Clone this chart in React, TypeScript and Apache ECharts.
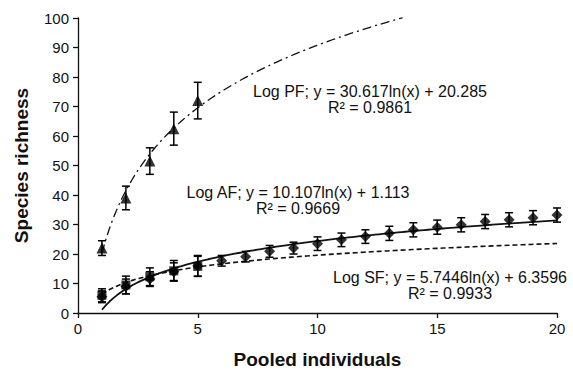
import React, { useEffect, useRef } from "react";
import * as echarts from "echarts";

const pfX = [1, 2, 3, 4, 5];
const pfY = [22, 39, 51.5, 62.5, 72];
const pfErr = [2.5, 4, 4.5, 5.6, 6.2];

const afX = [1, 2, 3, 4, 5, 6, 7, 8, 9, 10, 11, 12, 13, 14, 15, 16, 17, 18, 19, 20];
const afY = [5.5, 9, 11.5, 14, 16, 17.7, 19.1, 20.9, 22, 23.5, 24.8, 25.9, 27, 28.2, 29.1, 29.9, 31, 31.6, 32.3, 33.2];
const afErr = [2, 2.5, 2.5, 3, 3.5, 1.8, 1.8, 2, 2, 2.3, 2.3, 2.3, 2.4, 2.4, 2.4, 2.4, 2.4, 2.4, 2.4, 2.4];

const sfX = [1, 2, 3, 4, 5];
const sfY = [6, 9.5, 12.3, 14.3, 15.8];
const sfErr = [2.2, 3, 3, 3.5, 3.4];

// trendline coefficients shown on the chart: y = a ln(x) + b, drawn over [from, to]
const pfFit = [30.617, 20.285, 1, 13.55];
const afFit = [10.107, 1.113, 1, 20];
const sfFit = [5.7446, 6.3596, 1, 20];

const fitLabels = [
  { text: "Log PF; y = 30.617ln(x) + 20.285\nR² = 0.9861", x: 370, y: 99 },
  { text: "Log AF; y = 10.107ln(x) + 1.113\nR² = 0.9669", x: 298, y: 200 },
  { text: "Log SF; y = 5.7446ln(x) + 6.3596\nR² = 0.9933", x: 450, y: 285 },
];

function curve(fit: number[]) {
  const [a, b, from, to] = fit;
  const pts: number[][] = [];
  const n = 120;
  for (let i = 0; i <= n; i++) {
    const x = from + ((to - from) * i) / n;
    pts.push([x, a * Math.log(x) + b]);
  }
  return pts;
}

function errData(xs: number[], ys: number[], es: number[]) {
  return xs.map((x, i) => [x, ys[i] - es[i], ys[i] + es[i]]);
}

const errRender = (params: any, api: any) => {
  const x = api.value(0);
  const lo = api.coord([x, api.value(1)]);
  const hi = api.coord([x, api.value(2)]);
  const w = 4;
  const style = { stroke: "#000", lineWidth: 1.5 };
  return {
    type: "group",
    children: [
      { type: "line", shape: { x1: lo[0], y1: lo[1], x2: hi[0], y2: hi[1] }, style },
      { type: "line", shape: { x1: lo[0] - w, y1: lo[1], x2: lo[0] + w, y2: lo[1] }, style },
      { type: "line", shape: { x1: hi[0] - w, y1: hi[1], x2: hi[0] + w, y2: hi[1] }, style },
    ],
  };
};

const FONT = "'Liberation Sans', Arial, sans-serif";

export default function App() {
  const ref = useRef<HTMLDivElement>(null);
  useEffect(() => {
    const chart = echarts.init(ref.current!, null, { renderer: "svg" });
    chart.setOption({
      animation: false,
      backgroundColor: "#fff",
      grid: { left: 78, right: 16, top: 18, bottom: 61 },
      xAxis: {
        type: "value",
        min: 0,
        max: 20,
        interval: 5,
        name: "Pooled individuals",
        nameLocation: "middle",
        nameGap: 37,
        nameTextStyle: { fontFamily: FONT, fontSize: 19, fontWeight: "bold", color: "#111" },
        axisLine: { lineStyle: { color: "#111", width: 1.3 } },
        axisTick: { show: true, length: 5, lineStyle: { color: "#111", width: 1.3 } },
        axisLabel: { fontFamily: FONT, fontSize: 15, color: "#111", margin: 8 },
        splitLine: { show: false },
      },
      yAxis: {
        type: "value",
        min: 0,
        max: 100,
        interval: 10,
        name: "Species richness",
        nameLocation: "middle",
        nameGap: 47,
        nameTextStyle: { fontFamily: FONT, fontSize: 19, fontWeight: "bold", color: "#111" },
        axisLine: { show: true, lineStyle: { color: "#111", width: 1.3 } },
        axisTick: { show: true, length: 5, lineStyle: { color: "#111", width: 1.3 } },
        axisLabel: { fontFamily: FONT, fontSize: 15, color: "#111", margin: 9 },
        splitLine: { show: false },
      },
      series: [
        {
          type: "line",
          data: curve(pfFit),
          showSymbol: false,
          lineStyle: { color: "#111", width: 1.3, type: [9, 4, 2, 4] },
          z: 2,
        },
        {
          type: "line",
          data: curve(afFit),
          showSymbol: false,
          lineStyle: { color: "#111", width: 1.8, type: "solid" },
          z: 2,
        },
        {
          type: "line",
          data: curve(sfFit),
          showSymbol: false,
          lineStyle: { color: "#111", width: 1.6, type: [5, 3] },
          z: 2,
        },
        { type: "custom", renderItem: errRender, data: errData(pfX, pfY, pfErr), encode: { x: 0, y: [1, 2] }, z: 3 },
        { type: "custom", renderItem: errRender, data: errData(afX, afY, afErr), encode: { x: 0, y: [1, 2] }, z: 3 },
        { type: "custom", renderItem: errRender, data: errData(sfX, sfY, sfErr), encode: { x: 0, y: [1, 2] }, z: 3 },
        {
          type: "scatter",
          data: pfX.map((x, i) => [x, pfY[i]]),
          symbol: "triangle",
          symbolSize: 11,
          itemStyle: { color: "#000" },
          z: 4,
        },
        {
          type: "scatter",
          data: afX.map((x, i) => [x, afY[i]]),
          symbol: "diamond",
          symbolSize: 11,
          itemStyle: { color: "#000" },
          z: 4,
        },
        {
          type: "scatter",
          data: sfX.map((x, i) => [x, sfY[i]]),
          symbol: "rect",
          symbolSize: 9,
          itemStyle: { color: "#000" },
          z: 4,
        },
      ],
      graphic: fitLabels.map((l) => ({
        type: "text",
        x: l.x,
        y: l.y,
        style: {
          text: l.text,
          fontFamily: FONT,
          fontSize: 16,
          lineHeight: 16,
          fill: "#111",
          align: "center",
          verticalAlign: "middle",
        },
        z: 10,
      })),
    });
    return () => chart.dispose();
  }, []);
  return <div ref={ref} style={{ position: "fixed", left: 0, top: 0, width: 573, height: 374 }} />;
}
